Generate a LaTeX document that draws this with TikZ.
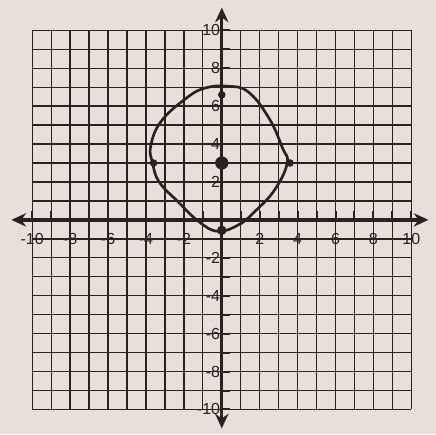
\documentclass[tikz,border=0pt]{standalone}
\usepackage{fontspec}
\setmainfont{Liberation Sans}
\usetikzlibrary{arrows.meta}
\definecolor{Paper}{HTML}{E9DFDA}
\definecolor{Ink}{HTML}{2B2121}

\begin{document}
\begin{tikzpicture}[x=1cm, y=1cm,
    gridline/.style={draw=Ink, line width=2pt},
    axisline/.style={draw=Ink, line width=5pt, {Stealth[length=22pt,width=20pt]}-{Stealth[length=22pt,width=20pt]}},
    tickmark/.style={draw=Ink, line width=3pt},
    numlabel/.style={text=Ink, font=\fontsize{24}{24}\selectfont, inner sep=1pt},
    curveline/.style={draw=Ink, line width=4pt},
    dotmark/.style={fill=Ink}]
  \useasboundingbox[fill=Paper] (-11.7,-11.3) rectangle (11.3,11.6);

  % grid
  \foreach \k in {-10,...,10} {
    \draw[gridline] (\k,-10) -- (\k,10);
    \draw[gridline] (-10,\k) -- (10,\k);
  }

  % axes
  \coordinate (xmin) at (-11.1,0);
  \coordinate (xmax) at (10.9,0);
  \coordinate (ymin) at (0,-11.0);
  \coordinate (ymax) at (0,11.2);
  \draw[axisline] (xmin) -- (xmax);
  \draw[axisline] (ymin) -- (ymax);

  % ticks
  \foreach \k in {-10,...,-1,1,2,...,10} {
    \draw[tickmark] (\k,0) -- (\k,0.45);
    \draw[tickmark] (0,\k) -- (0.45,\k);
  }

  % numbers
  \foreach \k in {-10,-8,-6,-4,-2,2,4,6,8,10} {
    \node[numlabel] (xl\k) at (\k,-1.0) {\k};
    \node[numlabel, anchor=east] (yl\k) at (-0.05,\k) {\k};
  }

  % curve
  \draw[curveline] plot[smooth cycle, tension=0.7] coordinates {
    (0.3,7.05) (1.4,6.75) (2.5,5.35) (3.2,3.8) (3.45,3.0) (2.8,1.6)
    (1.75,0.45) (0.9,-0.25) (-0.2,-0.6) (-1.2,-0.1) (-2.3,0.95)
    (-3.3,2.0) (-3.65,3.0) (-3.75,3.9) (-3.2,5.2) (-1.9,6.4) (-0.9,6.95)};

  % points
  \fill[dotmark] (0,3) circle (0.35);
  \fill[dotmark] (-3.6,3) circle (0.2);
  \fill[dotmark] (3.6,3) circle (0.2);
  \fill[dotmark] (0,6.6) circle (0.2);
  \fill[dotmark] (0,-0.55) circle (0.25);
\end{tikzpicture}
\end{document}
